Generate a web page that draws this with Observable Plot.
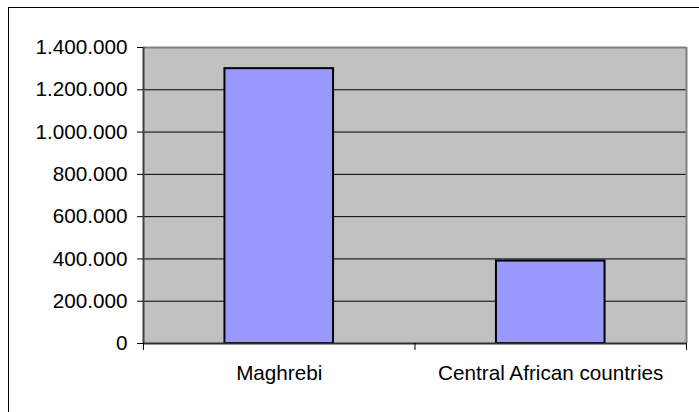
<!DOCTYPE html>
<html>
<head>
<meta charset="utf-8">
<script src="https://cdn.jsdelivr.net/npm/d3@7"></script>
<script src="https://cdn.jsdelivr.net/npm/@observablehq/plot@0.6"></script>
<style>
  html, body { margin: 0; padding: 0; background: #fff; overflow: hidden; }
  #wrap { position: relative; width: 699px; height: 412px; }
  #border { position: absolute; left: 8px; top: 7px; right: -10px; bottom: -10px;
            border-left: 1.5px solid #000; border-top: 1.5px solid #000; pointer-events: none; }
  #wrap svg { position: absolute; left: 0; top: 0; }
</style>
</head>
<body>
<div id="wrap"><div id="border"></div></div>
<script>
const categories = ["Maghrebi", "Central African countries"];
const values = [1300000, 390000];
const yTicks = [0, 200000, 400000, 600000, 800000, 1000000, 1200000, 1400000];

const fmt = d3.formatLocale({decimal: ",", thousands: ".", grouping: [3], currency: ["", ""]}).format(",d");
const data = categories.map((c, i) => ({category: c, index: i, value: values[i]}));
const n = categories.length;

const chart = Plot.plot({
  width: 699,
  height: 412,
  marginLeft: 143,
  marginRight: 13,
  marginTop: 47,
  marginBottom: 69,
  style: {fontFamily: "'Liberation Sans', Arial, sans-serif", fontSize: "20.7px", color: "#000", background: "transparent"},
  x: {type: "linear", domain: [0, n]},
  y: {domain: [0, 1400000]},
  marks: [
    Plot.frame({fill: "#c0c0c0", stroke: null}),
    Plot.ruleY(yTicks.slice(1, -1), {stroke: "#000", strokeWidth: 1}),
    Plot.ruleY([yTicks[yTicks.length - 1]], {stroke: "#808080", strokeWidth: 2}),
    Plot.ruleX([n], {stroke: "#808080", strokeWidth: 2}),
    Plot.rect(data, {x1: d => d.index + 0.3, x2: d => d.index + 0.7, y1: 0, y2: "value",
                     fill: "#9999ff", stroke: "#000", strokeWidth: 2}),
    Plot.ruleX([0], {stroke: "#404040", strokeWidth: 2}),
    Plot.ruleY([0], {stroke: "#303030", strokeWidth: 2}),
    Plot.axisY({ticks: yTicks, tickFormat: fmt, tickSize: 6, tickPadding: 10, stroke: "#000", label: null}),
    Plot.axisX({ticks: d3.range(n + 1), tickFormat: () => "", tickSize: 7, stroke: "#000", label: null}),
    Plot.axisX({ticks: categories.map((c, i) => i + 0.5), tickFormat: v => categories[Math.floor(v)],
                tickSize: 0, tickPadding: 22, label: null})
  ]
});
document.getElementById("wrap").prepend(chart);
</script>
</body>
</html>
